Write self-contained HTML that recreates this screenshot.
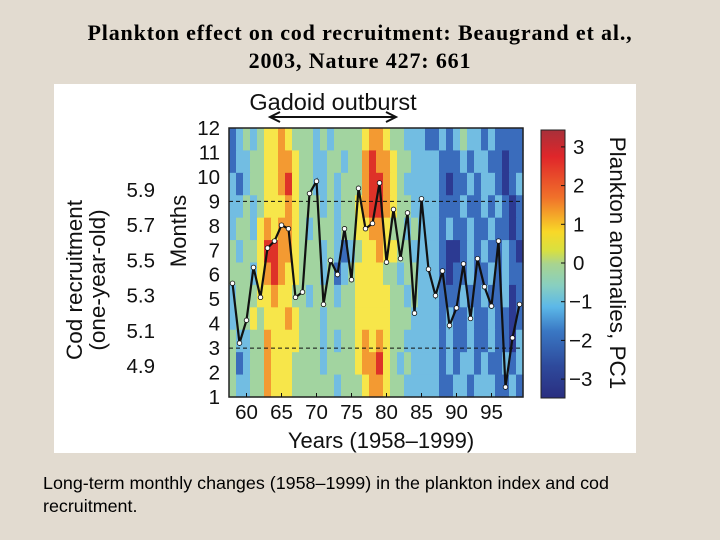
<!DOCTYPE html>
<html><head><meta charset="utf-8">
<style>
body{margin:0;width:720px;height:540px;background:#e2dbd0;position:relative;overflow:hidden;font-family:"Liberation Sans",sans-serif;}
.title{position:absolute;left:0;width:720px;text-align:center;font-family:"Liberation Serif",serif;font-weight:bold;font-size:22px;letter-spacing:0.85px;color:#000;}
.cap{position:absolute;left:43px;font-size:17.9px;color:#000;}
#panel{position:absolute;left:54px;top:84px;width:582px;height:369px;background:#fff;}
</style></head><body>
<div class="title" style="top:20px">Plankton effect on cod recruitment: Beaugrand et al.,</div>
<div class="title" style="top:48px">2003, Nature 427: 661</div>
<div id="panel"></div>
<svg id="chart" width="720" height="540" style="position:absolute;left:0;top:0"></svg>
<div class="cap" style="top:473px">Long-term monthly changes (1958–1999) in the plankton index and cod</div>
<div class="cap" style="top:496px">recruitment.</div>
<script>
const years=[];for(let y=1958;y<=1999;y++)years.push(y);
const yearTicks=[60,65,70,75,80,85,90,95];
const monthTicks=[1,2,3,4,5,6,7,8,9,10,11,12];
const codTicks=[4.9,5.1,5.3,5.5,5.7,5.9];
const cbTicks=[3,2,1,0,-1,-2,-3];
const codValues=[5.37,5.03,5.16,5.46,5.29,5.57,5.61,5.70,5.68,5.29,5.32,5.88,5.95,5.25,5.50,5.42,5.68,5.39,5.91,5.68,5.71,5.94,5.49,5.79,5.51,5.77,5.20,5.85,5.45,5.30,5.44,5.13,5.23,5.48,5.17,5.51,5.35,5.24,5.61,4.78,5.06,5.25];
// plankton level grid, rows month 12..1, codes 0..6 => -3..3
const planktonRows=[
"123234454333232333345543322211212322121111",
"122334455433223323356554332222111212211011",
"212334456433223233356654322222101121221012",
"223234445433323233456654332222111211212101",
"233245455432333233445543323222121121121101",
"323346655433323212344544332222100121211210",
"333245654433323123444433233222101121121211",
"233344544332333233444443323222111211211201",
"233434445433323333444443332222121121121101",
"322335444433323233454543322222121121121102",
"312335444333323333455643232222121221211212",
"322335444333333233345543322222112212221121"];
const levelColors=["#2c3a92","#3a6cbc","#72bde2","#a2d4a0","#f7e64a","#f39a32","#de3228"];

const svg=document.getElementById('chart');const NS="http://www.w3.org/2000/svg";
function mk(t,a,p){const e=document.createElementNS(NS,t);for(const k in a)e.setAttribute(k,a[k]);(p||svg).appendChild(e);return e;}
const X0=229,X1=523,Y0=128,Y1=397;
const cw=(X1-X0)/years.length;
const xYear=y=>X0+(y-1958+0.5)*cw;
const xYearTick=y=>X0+(y+1900-1958+0.5)*cw;
const mh=(Y1-Y0)/12;
const yMonthTop=m=>Y0+(12-m)*mh;
const yMonthLbl=m=>Y0+(12-m)*((Y1-Y0)/11);
const yCod=v=>366-(v-4.9)/1.0*176;
const yCb=v=>263-v*38.7;

const g=mk('g',{});


planktonRows.forEach((row,r)=>{const m=12-r;
 for(let i=0;i<years.length;i++){const c=mk('rect',{x:X0+i*cw,y:yMonthTop(m),width:cw+0.6,height:mh+0.6,fill:levelColors[+row[i]]},g);
 
 }});
const fr=mk('rect',{x:X0,y:Y0,width:X1-X0,height:Y1-Y0,fill:'none',stroke:'#222','stroke-width':1.5});

[9,3].forEach(m=>{const l=mk('line',{x1:X0,x2:X1,y1:yMonthLbl(m),y2:yMonthLbl(m),stroke:'#111','stroke-width':1,'stroke-dasharray':'4,3'});
 });
let d='';codValues.forEach((v,i)=>{d+=(i?'L':'M')+xYear(years[i])+','+yCod(v);});
const pl=mk('path',{d:d,fill:'none',stroke:'#111','stroke-width':2.2,'stroke-linejoin':'miter'});

codValues.forEach((v,i)=>{const c=mk('circle',{cx:xYear(years[i]),cy:yCod(v),r:2.3,fill:'#fff',stroke:'#111','stroke-width':0.8});
 });
function txt(s,a,name){const t=mk('text',Object.assign({'font-family':'Liberation Sans, sans-serif','font-size':20.5,fill:'#111'},a));t.textContent=s;
 return t;}
yearTicks.forEach(y=>{const x=xYearTick(y);mk('line',{x1:x,x2:x,y1:Y1,y2:Y1-4,stroke:'#111'});txt(String(y),{x:x,y:419,'text-anchor':'middle'},'year-tick-label');});
monthTicks.forEach(m=>{const y=yMonthLbl(m);txt(String(m),{x:220,y:y+7,'text-anchor':'end'},'month-tick-label');});
codTicks.forEach(v=>{const y=yCod(v);txt(v.toFixed(1),{x:155,y:y+7,'text-anchor':'end'},'cod-tick-label');});
txt('Years (1958–1999)',{x:381,y:448,'text-anchor':'middle',"font-size":22},'x-axis-title');
txt('Months',{x:0,y:0,transform:'translate(186,231) rotate(-90)','text-anchor':'middle',"font-size":22},'months-axis-title');
txt('Cod recruitment',{x:0,y:0,transform:'translate(82,280) rotate(-90)','text-anchor':'middle',"font-size":22.5},'cod-axis-title');
txt('(one-year-old)',{x:0,y:0,transform:'translate(105,280) rotate(-90)','text-anchor':'middle',"font-size":22.5},'cod-axis-subtitle');
txt('Gadoid outburst',{x:333,y:110,'text-anchor':'middle',"font-size":23.5},'gadoid-outburst-label');
const ar=mk('path',{d:'M272,117L394,117M280,112L270,117L280,122M386,112L396,117L386,122',stroke:'#111','stroke-width':2,fill:'none'});

// colorbar
const defs=mk('defs',{});const lg=mk('linearGradient',{id:'cb',x1:0,y1:0,x2:0,y2:1},defs);
[["0","#a8303a"],["0.1","#e0262a"],["0.25","#f0702a"],["0.38","#f8d828"],["0.45","#d8e040"],["0.5","#a8d490"],["0.58","#88cfc0"],["0.66","#5cb8e8"],["0.75","#3a78c4"],["0.88","#2e4a9c"],["1","#2a2e80"]].forEach(s=>mk('stop',{offset:s[0],'stop-color':s[1]},lg));
const cb=mk('rect',{x:541,y:130,width:24,height:268,fill:'url(#cb)',stroke:'#222','stroke-width':1});

cbTicks.forEach(v=>{const y=yCb(v);mk('line',{x1:561,x2:565,y1:y,y2:y,stroke:'#111'});txt(v<0?'−'+(-v):String(v),{x:v<0?569:573,y:y+7},'colorbar-tick-label');});
txt('Plankton anomalies, PC1',{x:0,y:0,transform:'translate(610,263) rotate(90)','text-anchor':'middle',"font-size":22.5},'colorbar-title');
</script>
</body></html>
